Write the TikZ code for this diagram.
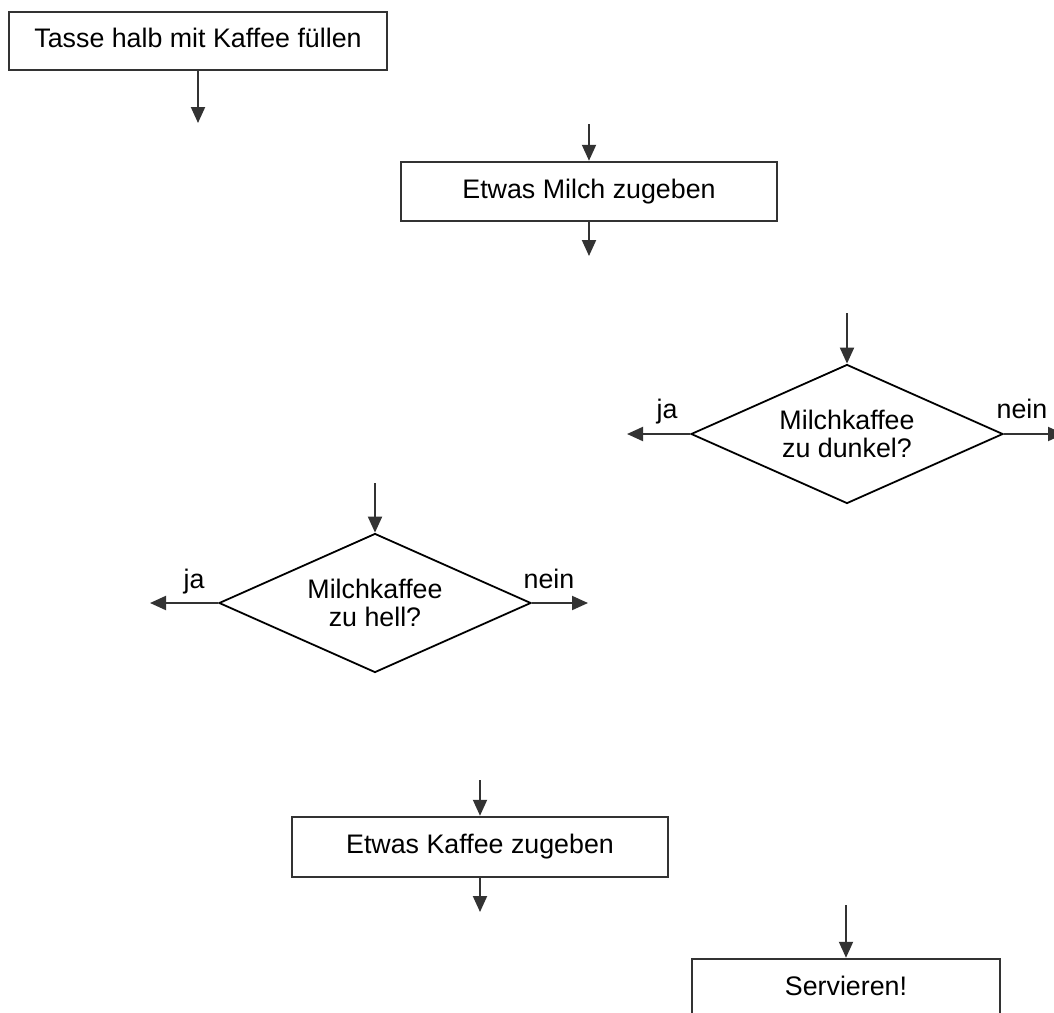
\documentclass[tikz,border=0pt]{standalone}
\usepackage{fontspec}
\setmainfont{Liberation Sans}
\usetikzlibrary{shapes.geometric,arrows.meta}
\definecolor{dg}{HTML}{333333}
\begin{document}
\begin{tikzpicture}[x=1pt,y=-1pt,
  every node/.style={font=\fontsize{26.8}{28.5}\selectfont},
  box/.style={draw=dg,line width=2.5pt,rectangle,inner sep=0pt,align=center,text height=19pt,text depth=6pt},
  dia/.style={draw=black,line width=1.8pt,diamond,aspect=2.245,inner sep=0pt,minimum width=312pt,minimum height=139pt,align=center},
  arr/.style={draw=dg,line width=2pt,-{Triangle[length=16pt,width=14pt]}},
  lbl/.style={anchor=base,inner sep=0pt}]
\useasboundingbox (0,0) rectangle (1054,1012);
\clip (0,0) rectangle (1054,1012);

% boxes
\node[box,minimum width=378pt,minimum height=58pt] (b1) at (198,41) {Tasse halb mit Kaffee füllen};
\node[box,minimum width=376pt,minimum height=59pt] (b2) at (589,191.5) {Etwas Milch zugeben};
\node[dia] (d1) at (847,434) {Milchkaffee\\zu dunkel?};
\node[dia] (d2) at (375,603) {Milchkaffee\\zu hell?};
\node[box,minimum width=376pt,minimum height=60pt] (b3) at (480,847) {Etwas Kaffee zugeben};
\node[box,minimum width=308pt,minimum height=60pt] (b4) at (846,989) {Servieren!};

% free ends
\coordinate (a1) at (198,123);
\coordinate (i2) at (589,124);
\coordinate (a2) at (589,256);
\coordinate (i3) at (847,313);
\coordinate (j1) at (627,434);
\coordinate (n1) at (1064,434);
\coordinate (i4) at (375,483);
\coordinate (j2) at (150,603);
\coordinate (n2) at (588,603);
\coordinate (i5) at (480,780);
\coordinate (a5) at (480,912);
\coordinate (i6) at (846,905);

% connectors
\draw[arr] (b1) -- (a1);
\draw[arr] (i2) -- (b2);
\draw[arr] (b2) -- (a2);
\draw[arr] (i3) -- (d1);
\draw[arr] (d1) -- (j1);
\draw[arr] (d1) -- (n1);
\draw[arr] (i4) -- (d2);
\draw[arr] (d2) -- (j2);
\draw[arr] (d2) -- (n2);
\draw[arr] (i5) -- (b3);
\draw[arr] (b3) -- (a5);
\draw[arr] (i6) -- (b4);

% labels
\node[lbl] (lj1) at (667,418) {ja};
\node[lbl] (ln1) at (1022,418) {nein};
\node[lbl] (lj2) at (194,588) {ja};
\node[lbl] (ln2) at (549,588) {nein};
\end{tikzpicture}
\end{document}
